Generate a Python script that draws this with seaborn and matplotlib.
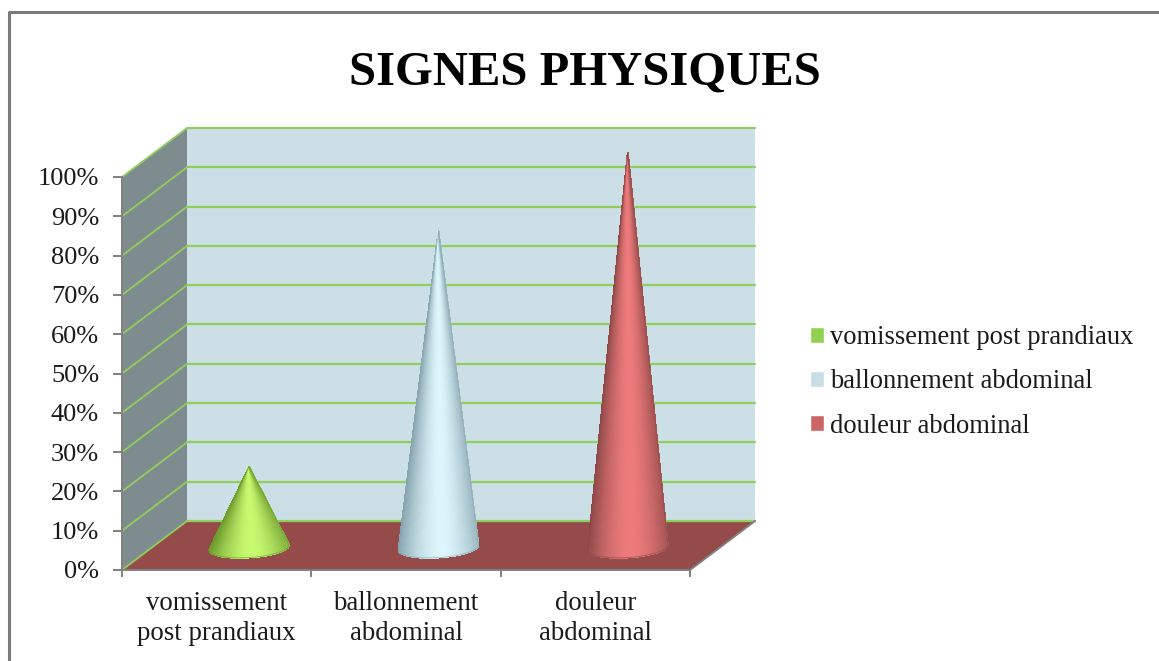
#!/usr/bin/env python3
"""Signes physiques: 3D-looking cone chart, built on a seaborn barplot."""
import numpy as np
import pandas as pd
import matplotlib
matplotlib.use("Agg")
import matplotlib.pyplot as plt
import seaborn as sns
from matplotlib.collections import PolyCollection
from matplotlib.lines import Line2D
from matplotlib.patches import Polygon
from matplotlib.transforms import IdentityTransform

title = "SIGNES PHYSIQUES"
series_names = ["vomissement post prandiaux", "ballonnement abdominal", "douleur abdominal"]
category_labels = ["vomissement\npost prandiaux", "ballonnement\nabdominal", "douleur\nabdominal"]
values = [20, 80, 100]
y_ticks = [0, 10, 20, 30, 40, 50, 60, 70, 80, 90, 100]
y_tick_labels = ["0%", "10%", "20%", "30%", "40%", "50%", "60%", "70%", "80%", "90%", "100%"]

legend_colors = ["#92D050", "#C9DDE5", "#CC6666"]
cone_dark = ["#6C9A2C", "#86A4AF", "#8E4848"]
cone_light = ["#C8FA70", "#DDF6FC", "#EE7B7B"]
WALL = "#CCDFE6"
SIDE = "#7F8C8F"
FLOOR = "#964B4B"
GRID = "#8FCF5C"
AXIS = "#808080"
TEXT = "#1A1A1A"

W, H = 1159, 661
DEPTH = np.array([65.0, 49.0])
CONE_HALF_WIDTH = 0.211  # in category units
CONE_BASE_H = 10.0
CONE_TILT = 0.0625

sns.set_theme(style="white")
plt.rcParams["font.family"] = ["Liberation Serif", "DejaVu Serif"]

fig = plt.figure(figsize=(W / 100, H / 100), dpi=100)
ax = fig.add_axes([122 / W, (H - 570) / H, 568 / W, 393 / H])

df = pd.DataFrame({"signe": series_names, "pct": values})
sns.barplot(data=df, x="signe", y="pct", hue="signe", palette=legend_colors,
            saturation=1, dodge=False, ax=ax, legend=True)
ax.set_xlim(-0.5, 2.5)
ax.set_ylim(0, 100)
ax.patch.set_visible(False)
ax.set_xlabel("")
ax.set_ylabel("")


def project(x, y, depth=0.0):
    # data position to pixels, pushed back along the depth direction
    return ax.transData.transform((x, y)) + depth * DEPTH


def add_poly(points, color, z):
    ax.add_patch(Polygon(points, closed=True, facecolor=color, edgecolor="none",
                         transform=IdentityTransform(), clip_on=False, zorder=z))


def add_line(p0, p1, color, lw, z):
    ax.add_line(Line2D([p0[0], p1[0]], [p0[1], p1[1]], color=color, lw=lw,
                       transform=IdentityTransform(), clip_on=False, zorder=z))


x0, x1 = ax.get_xlim()
add_poly([project(x0, 0, 1), project(x1, 0, 1), project(x1, 100, 1), project(x0, 100, 1)], WALL, 0.5)
add_poly([project(x0, 0, 0), project(x0, 0, 1), project(x0, 100, 1), project(x0, 100, 0)], SIDE, 0.5)
add_poly([project(x0, 0, 0), project(x1, 0, 0), project(x1, 0, 1), project(x0, 0, 1)], FLOOR, 0.6)

for tick in y_ticks:
    add_line(project(x0, tick, 0), project(x0, tick, 1), GRID, 1.3, 0.7)
    add_line(project(x0, tick, 1), project(x1, tick, 1), GRID, 1.6, 0.7)
add_line(project(x1, 0, 0), project(x1, 0, 1), AXIS, 1.4, 0.8)

# every cone takes its centre and height from the seaborn bar, then the bar is hidden
for i, bar in enumerate(ax.patches[:len(values)]):
    cx = bar.get_x() + bar.get_width() / 2
    tip = project(cx, bar.get_height(), 0.5)
    left = project(cx - CONE_HALF_WIDTH, 0, 0.5)
    right = project(cx + CONE_HALF_WIDTH, 0, 0.5)
    centre = (left + right) / 2 + np.array([0, -2.0])
    half = (right[0] - left[0]) / 2
    # slices even along the width so they stay about one pixel wide at the rim
    u = np.linspace(-1, 1, 2 * int(half) + 1)
    rim = np.column_stack([centre[0] + half * u,
                           centre[1] + half * CONE_TILT * u - CONE_BASE_H * np.sqrt(1 - u ** 2)])
    dark = np.array(matplotlib.colors.to_rgb(cone_dark[i]))
    light = np.array(matplotlib.colors.to_rgb(cone_light[i]))
    faces, shades = [], []
    for j in range(len(u) - 1):
        faces.append([tip, rim[j], rim[j + 1]])
        mid = (u[j] + u[j + 1]) / 2
        level = np.clip(1 - np.abs(mid - 0.1) ** 1.7 / 1.1 ** 1.7, 0, 1)
        shades.append(dark + (light - dark) * level)
    ax.add_collection(PolyCollection(faces, facecolors=shades, edgecolors=shades, linewidths=0.7,
                                     antialiaseds=False, transform=IdentityTransform(),
                                     clip_on=False, zorder=3))
    ax.add_patch(Polygon(np.vstack([tip[None, :], rim]), closed=True, fill=False, edgecolor=cone_dark[i],
                         lw=0.6, alpha=0.7, transform=IdentityTransform(), clip_on=False, zorder=3.1))
    bar.set_visible(False)

ax.set_yticks(y_ticks, y_tick_labels)
ax.set_xticks([-0.5, 0.5, 1.5, 2.5], ["", "", "", ""])
ax.set_xticks([0, 1, 2], category_labels, minor=True)
ax.tick_params(axis="y", which="major", length=6.5, width=1.4, color=AXIS, left=True,
               labelsize=19, labelcolor=TEXT, pad=10)
ax.tick_params(axis="x", which="major", length=5, width=1.4, color=AXIS, bottom=True)
ax.tick_params(axis="x", which="minor", length=0, labelsize=19.3, labelcolor=TEXT, pad=15)
for label in ax.get_xticklabels(minor=True):
    label.set_linespacing(1.29)
sns.despine(ax=ax, top=True, right=True)
for side in ["left", "bottom"]:
    ax.spines[side].set_color(AXIS)
    ax.spines[side].set_linewidth(1.4)
    ax.spines[side].set_zorder(2)

sns.move_legend(ax, "center left", bbox_to_anchor=(810 / W, (H - 382) / H),
                bbox_transform=fig.transFigure, frameon=False, title=None, fontsize=19.1,
                labelspacing=0.72, handlelength=0.52, handleheight=0.52, handletextpad=0.23,
                borderpad=0, borderaxespad=0, labelcolor=TEXT)

fig.text(585 / W, (H - 73) / H, title, ha="center", va="center", fontsize=35,
         fontweight="bold", color="black")

# outer chart frame, open on the right and at the bottom
fig.add_artist(Line2D([8.5 / W, 8.5 / W, 1.0], [0.0, (H - 11.5) / H, (H - 11.5) / H],
                      color="#7A7A7A", lw=2.2, transform=fig.transFigure))

fig.savefig("out.png", dpi=100, facecolor="white")
plt.close(fig)
